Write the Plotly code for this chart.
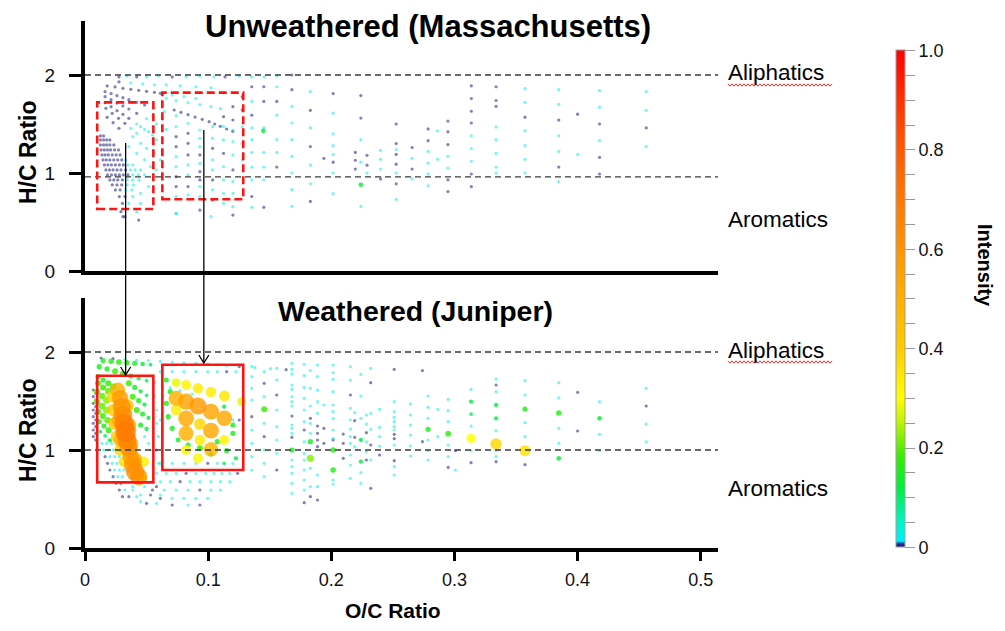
import plotly.graph_objects as go

FONT = "Liberation Sans, Arial, sans-serif"

# ---------------------------------------------------------------------------
# Unweathered (Massachusetts) – individual points / short homologous series
# ---------------------------------------------------------------------------
top_oc = [
    0.0276, 0.0340, 0.0420, 0.0500, 0.0596, 0.0708, 0.0821, 0.0933, 0.1048, 0.1137, 0.1252, 0.1354, 0.1455, 0.1557, 0.168,
    0.0276, 0.0372, 0.0468, 0.0564, 0.066, 0.0772, 0.090, 0.1023,
    0.018, 0.0244, 0.0308, 0.0372, 0.0436, 0.050, 0.0564, 0.0612, 0.0708, 0.0804, 0.0901,
    0.0163, 0.0212, 0.026, 0.0308, 0.0356, 0.042, 0.0484, 0.0564, 0.0644, 0.074,
    0.0163, 0.0212, 0.026, 0.0308, 0.0356, 0.042, 0.05, 0.058, 0.066,
    0.0163, 0.0212, 0.026, 0.0308, 0.0356, 0.042, 0.0484, 0.0548,
    0.017, 0.0221, 0.0272, 0.0324, 0.0372, 0.042,
    0.018, 0.0228, 0.0276,
    0.0388, 0.0452, 0.05, 0.0356, 0.042, 0.0484, 0.0532, 0.0452, 0.0516, 0.058, 0.0564, 0.0612, 0.058, 0.0628, 0.0516, 0.0452,
    0.0324, 0.0436, 0.074, 0.0933, 0.1023, 0.1201,
    0.0724, 0.0779, 0.0837, 0.0894, 0.0952, 0.1008, 0.1053, 0.1099, 0.115, 0.120,
    0.066, 0.074, 0.0837, 0.0933, 0.1023, 0.11,
    0.1448,
]
top_hc = [
    1.98, 1.99, 1.98, 1.98, 1.99, 1.98, 1.98, 1.99, 1.98, 1.98, 1.99, 1.98, 1.98, 1.99, 2.0,
    1.93, 1.92, 1.91, 1.90, 1.90, 1.89, 1.88, 1.87,
    1.888, 1.878, 1.864, 1.854, 1.844, 1.833, 1.823, 1.813, 1.796, 1.779, 1.762,
    1.830, 1.810, 1.789, 1.769, 1.748, 1.721, 1.694, 1.660, 1.626, 1.585,
    1.779, 1.748, 1.714, 1.684, 1.653, 1.609, 1.554, 1.5, 1.446,
    1.718, 1.677, 1.636, 1.599, 1.558, 1.5, 1.446, 1.388,
    1.66, 1.609, 1.558, 1.507, 1.456, 1.405,
    1.568, 1.514, 1.456,
    1.371, 1.303, 1.252, 1.269, 1.201, 1.133, 1.065, 1.473, 1.422, 1.337, 1.201, 1.133, 1.031, 0.929, 0.861, 0.793,
    0.554, 0.520, 0.588, 0.622, 0.554, 0.571,
    1.643, 1.619, 1.595, 1.571, 1.548, 1.524, 1.500, 1.476, 1.449, 1.425,
    1.762, 1.738, 1.718, 1.697, 1.677, 1.656,
    1.43,
]
top_int = [
    0, .03, 0, .03, .03, 0, .03, .03, .03, 0, .03, .03, .03, .03, 0,
    0, .03, .03, .03, .03, .03, .03, .03,
    0, 0, 0, 0, 0, 0, 0, 0, .03, .03, .03,
    0, 0, 0, 0, 0, 0, 0, .03, .03, .03,
    0, 0, 0, 0, 0, 0, .03, .03, .03,
    0, 0, 0, 0, 0, .03, .03, .03,
    0, 0, 0, 0, .03, .03,
    0, 0, 0,
    .03, .03, .03, .03, .03, .03, .03, .03, .03, .03, .03, .03, .03, .03, .03, .03,
    0, 0, .03, 0, .03, 0,
    0, 0, 0, 0, 0, 0, 0, 0, 0, 0,
    .03, .03, .03, .03, .03, .03,
    .13,
]

# low-O/C aromatic cluster, stored as rows of equal H/C
top_row_hc = [1.378, 1.337, 1.286, 1.235, 1.184, 1.133, 1.082, 1.031, 0.980, 0.929,
              0.878, 0.827, 0.759, 0.690, 0.605, 0.554]
top_row_oc = [
    [.0125, .0151],
    [.0125, .0151, .0176, .0202],
    [.0125, .0151, .0176, .0202, .0234],
    [.0131, .0157, .0183, .0208, .0240, .0272],
    [.0138, .0163, .0189, .0221, .0253, .0285],
    [.0147, .0173, .0202, .0234, .0266, .0298, .0330],
    [.0157, .0186, .0215, .0247, .0279, .0311, .0349, .0388],
    [.0170, .0199, .0228, .0260, .0292, .0330, .0369, .0407, .0452],
    [.0183, .0215, .0247, .0279, .0311, .0349, .0388, .0433, .0484],
    [.0202, .0234, .0266, .0304, .0343, .0388, .0439],
    [.0221, .0260, .0298, .0343, .0394],
    [.0247, .0285, .0330, .0381],
    [.0279, .0324, .0388],
    [.0304, .0356, .0452],
    [.0292, .0420],
    [.0308],
]
top_row_int = [
    [0, 0],
    [0, 0, 0, 0],
    [0, 0, 0, 0, 0],
    [0, 0, 0, 0, 0, 0],
    [0, 0, 0, 0, 0, 0],
    [0, 0, 0, 0, 0, 0, .03],
    [0, 0, 0, 0, 0, 0, .03, .03],
    [0, 0, 0, 0, 0, 0, .03, .03, .03],
    [0, 0, 0, 0, 0, 0, .03, .03, .03],
    [0, 0, 0, 0, .03, .03, .03],
    [0, 0, 0, .03, .03],
    [0, 0, .03, .03],
    [0, 0, .03],
    [0, .03, .03],
    [0, .03],
    [0],
]

# higher-O/C formulas, stored as columns of equal O/C
top_col_oc = [0.074, 0.0837, 0.0933, 0.1036, 0.1125, 0.1201, 0.1277, 0.1354, 0.1452, 0.1557,
              0.168, 0.183, 0.194, 0.2015, 0.2195, 0.224, 0.229, 0.24, 0.2527, 0.2656,
              0.2786, 0.2863, 0.2947, 0.3137, 0.3338, 0.3573, 0.3847, 0.40, 0.4178, 0.4557]
top_col_hc = [
    [1.473, 1.371, 1.269, 1.167, 1.065, .963, .861, .759, .588],
    [1.507, 1.405, 1.303, 1.184, 1.082, .980, .861, .776],
    [1.439, 1.354, 1.269, 1.184, 1.099, 1.014, .929, .861, .759],
    [1.473, 1.354, 1.252, 1.133, 1.031, .929, .827, .724],
    [1.575, 1.473, 1.337, 1.201, 1.065, .929, .793, .690],
    [1.677, 1.541, 1.439, 1.320, 1.184, 1.031, .912, .793, .656],
    [1.779, 1.643, 1.473, 1.303, 1.133],
    [1.88, 1.73, 1.59, 1.46, 1.34, 1.21, 1.06, .93, .76, .65],
    [1.88, 1.73, 1.46, 1.21, 1.06, .93, .65],
    [1.88, 1.73, 1.59, 1.34, 1.21, 1.06],
    [1.85, 1.68, 1.51, 1.34, 1.17, 1.0, .83, .66],
    [1.83, 1.64, 1.46, 1.27, 1.08, .89, .71],
    [1.15],
    [1.81, 1.61, 1.40, 1.28, 1.19, 1.11, 1.0, .79],
    [1.21, 1.13, 1.04],
    [1.79, 1.56, 1.34, 1.11, .88, .66],
    [1.18, 1.08, 1.0],
    [1.23, 1.14, 1.04, .94],
    [1.5, 1.3, 1.24, 1.19, 1.09, 1.0, .89, .73],
    [1.26, 1.15, 1.04, .94],
    [1.45, 1.33, 1.22, 1.10, .99, .87],
    [1.43, 1.14],
    [1.53, 1.42, 1.29, 1.17, 1.05, .93, .81],
    [1.89, 1.76, 1.63, 1.51, 1.38, 1.25, 1.12, .99, .86],
    [1.88, 1.74, 1.68, 1.47, 1.34, 1.20, 1.06, 1.0],
    [1.86, 1.72, 1.57, 1.43, 1.28, 1.14, 1.0],
    [1.85, 1.70, 1.54, 1.38, 1.22, 1.06, .91],
    [1.60, 1.19],
    [1.84, 1.67, 1.5, 1.33, 1.16, .99],
    [1.83, 1.64, 1.46, 1.27],
]
top_col_int = [
    [.03, 0, 0, .03, .03, 0, 0, .03, .03],
    [.03, 0, 0, 0, .03, .03, 0, .03],
    [.03, .03, .03, 0, .03, 0, 0, .03, .03],
    [.03, .03, 0, .03, .03, 0, .03, 0],
    [0, .03, .03, 0, .03, .03, .03, .03],
    [0, 0, .03, .03, .03, 0, .03, .03, .03],
    [0, 0, .03, .03, .03],
    [0, .03, 0, .03, .03, .03, .03, .03, 0, .03],
    [0, 0, .03, .03, .03, .03, 0],
    [.03, 0, .03, .03, .03, 0],
    [0, .03, .03, .03, .03, .03, .03, .03],
    [.03, 0, .03, 0, .03, .03, 0],
    [0],
    [0, .03, .03, .03, .03, 0, .03, .03],
    [0, 0, 0],
    [0, 0, .03, .03, .13, .03],
    [0, 0, .03],
    [.03, .03, .03, 0],
    [0, 0, .03, 0, 0, .03, 0, .03],
    [0, .03, 0, .03],
    [0, 0, .03, .03, .03, .03],
    [.03, .03],
    [0, 0, 0, .03, .03, 0, 0],
    [0, 0, 0, 0, .03, .03, .03, 0, 0],
    [0, 0, 0, .03, .03, .03, .03, .03],
    [.03, .03, 0, .03, .03, .03, .03],
    [.03, .03, 0, .03, .03, 0, .03],
    [0, .03],
    [.03, .03, 0, .03, 0, 0],
    [.03, .03, 0, .03],
]

# ---------------------------------------------------------------------------
# Weathered (Juniper) – individual points, series and intense features
# ---------------------------------------------------------------------------
bot_oc = [
    0.0131, 0.0228, 0.0324, 0.042, 0.0516, 0.0612, 0.0708, 0.0804, 0.0901, 0.0997,
    0.1074, 0.115, 0.1252, 0.138, 0.1506, 0.1633,
    0.0147, 0.0212, 0.0276, 0.034, 0.0404, 0.0468, 0.0532,
    0.0115, 0.0179, 0.0244, 0.0308, 0.0372, 0.0436, 0.05, 0.0564, 0.0628, 0.0692, 0.0772, 0.0869,
    0.0106, 0.0147, 0.0189, 0.023,
    0.0106, 0.0147, 0.0189,
    0.0099, 0.0138, 0.0176,
    0.0099, 0.0138, 0.0176,
    0.0106, 0.0144, 0.0183,
    0.0115, 0.0154, 0.0192,
    0.0125, 0.0163, 0.0202,
    0.0266, 0.0285, 0.0298, 0.0308, 0.0317, 0.033, 0.034, 0.0356, 0.0372, 0.0388, 0.0407, 0.0436,
    0.0276, 0.0356, 0.029, 0.0372, 0.034, 0.0404,
    0.0221, 0.0228, 0.024, 0.026, 0.0285, 0.0317, 0.0478, 0.0452,
    0.0356, 0.0404, 0.0452, 0.05, 0.0388, 0.0436, 0.0484, 0.042, 0.0468, 0.0516, 0.0452, 0.05, 0.0484, 0.0516, 0.0532,
    0.0564, 0.058, 0.058, 0.0596, 0.058, 0.0596,
    0.074, 0.0821, 0.0917, 0.1023, 0.1132, 0.074, 0.0821, 0.0917, 0.1023, 0.1132,
    0.074, 0.0821, 0.0933, 0.1023, 0.0821, 0.0933, 0.1023, 0.113, 0.0821, 0.0917, 0.1272,
    0.066, 0.0692, 0.066, 0.0676, 0.0708, 0.0756, 0.0837, 0.0933, 0.1023, 0.1201, 0.113, 0.1201,
    0.1074, 0.115, 0.1226, 0.113,
]
bot_hc = [
    1.939, 1.932, 1.925, 1.918, 1.912, 1.905, 1.898, 1.891, 1.884, 1.877,
    1.87, 1.86, 1.85, 1.84, 1.83, 1.82,
    1.912, 1.905, 1.898, 1.891, 1.884, 1.878, 1.871,
    1.850, 1.827, 1.803, 1.779, 1.755, 1.731, 1.707, 1.684, 1.660, 1.636, 1.605, 1.571,
    1.748, 1.714, 1.680, 1.646,
    1.680, 1.639, 1.599,
    1.595, 1.551, 1.507,
    1.493, 1.449, 1.405,
    1.391, 1.347, 1.303,
    1.289, 1.245, 1.201,
    1.187, 1.143, 1.099,
    1.612, 1.527, 1.442, 1.357, 1.272, 1.187, 1.102, 1.017, 0.932, 0.847, 0.779, 0.728,
    1.30, 1.25, 1.10, 1.06, 1.45, 0.90,
    1.544, 1.408, 1.272, 1.136, 1.0, 0.881, 0.881, 0.711,
    1.680, 1.639, 1.599, 1.558, 1.544, 1.503, 1.463, 1.408, 1.367, 1.327, 1.255, 1.214, 1.136, 1.068, 1.0,
    1.544, 1.408, 1.272, 1.136, 1.0, 0.864,
    1.687, 1.663, 1.629, 1.592, 1.551, 1.527, 1.493, 1.449, 1.391, 1.323,
    1.408, 1.323, 1.265, 1.197, 1.170, 1.102, 1.007, 1.102, 1.0, 0.915, 1.493,
    1.714, 1.595, 1.476, 1.340, 1.221, 1.102, 1.051, 1.017, 0.959, 1.255, 1.442, 1.170,
    1.085, 0.993, 0.915, 0.864,
]
bot_int = [
    0, 0, .03, .03, .03, .03, .03, .03, .03, .03,
    .03, .03, 0, .03, .03, 0,
    .15, .16, .17, .16, .15, .13, .1,
    .15, .15, .18, .18, .15, .12, .1, .08, .05, .03, .03, .03,
    .15, .15, .18, .2,
    .18, .18, .2,
    .2, .2, .22,
    .2, .2, .22,
    .18, .18, .2,
    .15, .15, .18,
    .1, .1, .12,
    .5, .56, .6, .63, .67, .7, .66, .6, .57, .6, .62, .58,
    .5, .5, .48, .5, .45, .5,
    .38, .4, .42, .4, .38, .35, .33, .4,
    .18, .15, .12, .1, .18, .15, .12, .18, .15, .12, .15, .12, .03, .03, .03,
    .03, .03, .03, .03, 0, .03,
    .28, .32, .34, .34, .35, .5, .55, .58, .54, .52,
    .34, .53, .38, .53, .5, .34, .48, .32, .32, .32, .28,
    .15, .15, .16, .15, .15, .14, .15, .18, .15, .15, .12, .15,
    .15, .15, .12, .1,
]

bot_row_hc = [1.068, 1.0, 0.932, 0.864, 0.796, 0.728, 0.660, 0.592, 0.524, 0.473, 0.626, 0.541,
              0.456, 1.799, 1.306, 0.864, 0.762, 0.677, 0.592, 0.507, 0.439]
bot_row_oc = [
    [.0138, .0176, .0215],
    [.0151, .0189, .0228, .0266],
    [.0163, .0202, .024, .0279],
    [.0183, .0221, .026, .0298],
    [.0202, .024, .0279, .0317],
    [.0228, .0266, .0304],
    [.0253, .0292],
    [.0279, .0324, .0388],
    [.0304, .0356, .042],
    [.0452],
    [.0388, .0484, .058],
    [.0452, .0532, .0612],
    [.05, .058],
    [.0612, .0708, .0804, .0901, .0997, .1074, .115, .1226],
    [.0612, .1201, .1252],
    [.0612, .0708, .0804, .0901, .0997, .1074, .1201],
    [.058, .066, .074, .0821, .0901, .0981, .1048, .1112, .1176, .1239],
    [.0612, .0692, .0772, .0853, .0933, .1023, .11, .1176],
    [.0548, .0644, .074, .0837, .0933, .1023, .11],
    [.0612, .0708, .0804, .0901, .0997],
    [.0708, .0837, .0933],
]
bot_row_int = [
    [.03, .03, .03],
    [.03, .03, .03, .03],
    [0, .03, .03, .03],
    [0, .03, .03, .03],
    [0, .03, .03, .03],
    [0, .03, .03],
    [0, 0],
    [0, .03, .03],
    [0, 0, .03],
    [.03],
    [.03, .03, 0],
    [.03, 0, .03],
    [0, .03],
    [.03, .03, .03, .03, .03, .03, 0, .03],
    [.03, .03, 0],
    [.03, .03, .03, .03, 0, .03, .03],
    [.03, .03, .03, 0, .03, .03, .03, .03, .03, 0],
    [.03, .03, 0, .03, .03, .03, .03, .03],
    [0, .03, .03, .03, 0, .03, .03],
    [0, .03, .03, .03, .03],
    [0, .03, 0],
]

bot_col_oc = [0.0067, 0.0087, 0.1354, 0.1455, 0.1557, 0.168, 0.178, 0.183, 0.1888, 0.194,
              0.2015, 0.2097, 0.2155, 0.219, 0.224, 0.2285, 0.232, 0.2392, 0.2511, 0.2643,
              0.274, 0.2786, 0.2865, 0.2949, 0.3008, 0.3135, 0.3338, 0.3573, 0.3847, 0.40,
              0.4178, 0.4557]
bot_col_hc = [
    [1.612, 1.544, 1.476, 1.408, 1.340, 1.272, 1.204, 1.136],
    [1.578, 1.510, 1.442, 1.374, 1.306, 1.238, 1.170, 1.102],
    [1.850, 1.748, 1.629, 1.510, 1.340, 1.204, 1.068, .932, .796],
    [1.799, 1.680, 1.544, 1.415, 1.272, 1.136, 1.0, .864, .728],
    [1.833, 1.714, 1.561, 1.408, 1.238, 1.102, .966, .796],
    [1.884, 1.823, 1.776, 1.663, 1.619, 1.544, 1.493, 1.449, 1.347, 1.255, 1.221, 1.170, 1.129,
     1.0, .898, .830, .762, .660, .558],
    [1.874, 1.759, 1.639, 1.527, 1.408, 1.289, 1.204, 1.085, .966, .898, .796, .694, .592, .463],
    [1.810, 1.629, 1.449, 1.323, 1.272, 1.170, 1.085, .915, .813, .626, .524],
    [1.867, 1.748, 1.612, 1.493, 1.374, 1.245, 1.170, 1.102, 1.034, .745, .626, .490],
    [1.459, 1.221, 1.068],
    [1.867, 1.789, 1.721, 1.595, 1.459, 1.391, 1.323, 1.204, 1.119, 1.102, 1.0, .796, .694, .653],
    [1.163, 1.068, .915],
    [1.850, 1.714, 1.561, 1.425, 1.306, 1.214, 1.136, 1.068, .949, .847, .711],
    [1.381, 1.299, 1.129, 1.034],
    [1.772, 1.551, 1.323, 1.102, .881, .769, .660],
    [1.357, 1.265, 1.177, 1.082, .983, .898],
    [1.833, 1.687, 1.374, 1.211, 1.051, .898, .609],
    [1.415, 1.231, 1.136, 1.041, .949],
    [1.823, 1.493, 1.391, 1.333, 1.289, 1.238, 1.204, 1.160, 1.116, 1.051, .891, .830, .745],
    [1.469, 1.357, 1.255, 1.153, 1.041, .939],
    [1.810, 1.085],
    [1.551, 1.435, 1.323, 1.211, 1.102, .993, .898],
    [1.415, 1.136],
    [1.517, 1.401, 1.289, 1.167, 1.051, .932, .823],
    [.993, .796],
    [1.619, 1.493, 1.367, 1.245, 1.119, .993, .871],
    [1.724, 1.663, 1.595, 1.459, 1.323, 1.197, 1.061, .993, .932, .881],
    [1.707, 1.561, 1.418, 1.279, 1.136, .993, .850],
    [1.687, 1.531, 1.378, 1.221, 1.068, .915],
    [1.588, 1.194],
    [1.493, 1.323, 1.160, .993],
    [1.629, 1.449, 1.265, 1.082],
]
bot_col_int = [
    [0, 0, 0, 0, 0, 0, 0, 0],
    [0, 0, 0, 0, 0, 0, 0, 0],
    [.03, .03, .03, .03, 0, .03, .03, .03, .03],
    [.03, 0, .03, .18, .03, 0, .03, .03, .03],
    [.03, .03, 0, .03, .03, .03, .03, 0],
    [.03, .03, .03, .03, .03, .03, .03, .03, 0, .03, .03, .03, 0, .15, .03, .03, .03, .03, .03],
    [.03, .03, .03, .03, .03, .03, 0, .03, .03, .03, .03, .03, .03, 0],
    [.03, .03, .03, 0, .03, .03, .15, .22, .03, .03, 0],
    [.03, .03, .03, .03, .03, 0, 0, 0, 0, .03, .03, 0],
    [.03, 0, 0],
    [.03, .03, .03, .03, .03, .03, .03, .03, .03, 0, .16, .16, .03, .03],
    [0, 0, 0],
    [.03, .03, 0, .03, .03, .03, .03, .03, .03, .03, .03],
    [.03, 0, 0, .03],
    [.03, .03, .03, .12, .12, .03, .03],
    [.03, .03, 0, .03, .03, 0],
    [.03, 0, .03, .03, 0, .03, 0],
    [.03, .03, .03, .03, 0],
    [0, .03, .03, .03, .03, .03, .03, 0, 0, .03, 0, .03, .03],
    [.03, .03, .03, .03, .03, .03],
    [0, 0],
    [.03, .03, .03, .15, .03, .03, .03],
    [.03, .03],
    [.03, .03, .03, .17, .03, .03, 0],
    [0, .03],
    [.03, .12, .1, .03, .3, .03, 0],
    [.03, 0, .03, .12, .12, .03, .38, .03, .03, 0],
    [.03, .03, .15, .03, .03, .36, 0],
    [.03, .03, .16, .03, .03, .13],
    [0, 0],
    [.03, .13, .03, .03],
    [.03, 0, .03, .03],
]

# axis ticks and labels
x_tick_vals = [0, 0.1, 0.2, 0.3, 0.4, 0.5]
x_tick_text = ["0", "0.1", "0.2", "0.3", "0.4", "0.5"]
y_tick_vals = [0, 1, 2]
cbar_label_vals = [0, 0.2, 0.4, 0.6, 0.8, 1.0]
cbar_label_text = ["0", "0.2", "0.4", "0.6", "0.8", "1.0"]

# reference lines (H/C) and highlighted regions (O/C range, H/C range)
top_ref_lines = [2.0, 0.96]
bot_ref_lines = [2.0, 1.0]
top_boxes = [(0.0099, 0.0555, 0.633, 1.721), (0.0628, 0.1285, 0.732, 1.820)]
bot_boxes = [(0.0099, 0.0555, 0.670, 1.758), (0.0628, 0.1285, 0.796, 1.870)]
arrow_oc = [0.033, 0.0965]


def combine(oc, hc, it, row_hc, row_oc, row_it, col_oc, col_hc, col_it):
    xs, ys, vs = list(oc), list(hc), list(it)
    assert len(xs) == len(ys) == len(vs), (len(xs), len(ys), len(vs))
    for y, xl, vl in zip(row_hc, row_oc, row_it):
        assert len(xl) == len(vl)
        xs += xl
        ys += [y] * len(xl)
        vs += vl
    for x, yl, vl in zip(col_oc, col_hc, col_it):
        assert len(yl) == len(vl)
        xs += [x] * len(yl)
        ys += yl
        vs += vl
    # weakest first so intense peaks sit on top
    order = sorted(range(len(vs)), key=lambda i: vs[i])
    return [xs[i] for i in order], [ys[i] for i in order], [vs[i] for i in order]


tx, ty, tv = combine(top_oc, top_hc, top_int, top_row_hc, top_row_oc, top_row_int,
                     top_col_oc, top_col_hc, top_col_int)
bx, by, bv = combine(bot_oc, bot_hc, bot_int, bot_row_hc, bot_row_oc, bot_row_int,
                     bot_col_oc, bot_col_hc, bot_col_int)

CSCALE = [
    [0.0, "#1c1c7a"], [0.006, "#1f2c8c"], [0.012, "#00eeff"], [0.05, "#00f5c8"],
    [0.12, "#00ee40"], [0.18, "#33ee00"], [0.26, "#ccf500"], [0.3, "#ffff00"],
    [0.4, "#ffcc00"], [0.5, "#ffb000"], [0.6, "#ff9400"], [0.7, "#ff7800"],
    [0.8, "#ff5a00"], [0.9, "#ff3000"], [1.0, "#ff0000"],
]


def marker_for(vals, with_bar=False):
    m = dict(
        color=vals, cmin=0, cmax=1, colorscale=CSCALE,
        size=[3.2 + 28 * max(0.0, v - 0.08) for v in vals],
        opacity=[0.55 if v < 0.1 else 0.82 for v in vals],
        line=dict(width=0),
        showscale=with_bar,
    )
    if with_bar:
        minor = [i / 20 for i in range(21)]
        m["colorbar"] = dict(
            x=1.2812, xanchor="left", xpad=0,
            y=0.4725, yanchor="middle", ypad=0,
            len=497, lenmode="pixels", thickness=9, thicknessmode="pixels",
            outlinewidth=1, outlinecolor="#a0a0a0",
            tickvals=minor,
            ticktext=[cbar_label_text[cbar_label_vals.index(round(t, 2))]
                      if round(t, 2) in cbar_label_vals else "" for t in minor],
            ticks="outside", ticklen=10, tickwidth=1, tickcolor="#9a9a9a",
            tickfont=dict(size=18, color="#111111", family=FONT),
        )
    return m


fig = go.Figure()
fig.add_trace(go.Scatter(x=tx, y=ty, mode="markers", xaxis="x2", yaxis="y2",
                         marker=marker_for(tv), hoverinfo="skip", showlegend=False))
fig.add_trace(go.Scatter(x=bx, y=by, mode="markers", xaxis="x", yaxis="y",
                         marker=marker_for(bv, with_bar=True), hoverinfo="skip", showlegend=False))

W, H = 1005, 631
ML, MR, MT, MB = 85, 287, 21, 83
PW, PH = W - ML - MR, H - MT - MB
X_MAX = 0.514
Y_MAX = 2.551


def px_to_paper(px, py):
    return (px - ML) / PW, (H - MB - py) / PH


axis_common = dict(showgrid=False, zeroline=False, showline=True, linecolor="black")
fig.update_layout(
    width=W, height=H, margin=dict(l=ML, r=MR, t=MT, b=MB, pad=0),
    paper_bgcolor="white", plot_bgcolor="white", showlegend=False,
    font=dict(family=FONT, color="#111111"),
    xaxis=dict(domain=[0, 1], anchor="y", range=[0, X_MAX], tickvals=x_tick_vals, ticktext=x_tick_text,
               ticks="outside", ticklen=9, tickwidth=2.5, tickcolor="black", linewidth=3.5,
               tickfont=dict(size=18), ticklabelstandoff=4, **axis_common),
    xaxis2=dict(domain=[0, 1], anchor="y2", range=[0, X_MAX], showticklabels=False, ticks="",
                linewidth=3.5, **axis_common),
    yaxis=dict(domain=[0, 250 / PH], anchor="x", range=[0, Y_MAX], tickvals=y_tick_vals,
               ticks="outside", ticklen=12, tickwidth=2.5, tickcolor="black", linewidth=4,
               tickfont=dict(size=19), ticklabelstandoff=10, **axis_common),
    yaxis2=dict(domain=[1 - 250 / PH, 1], anchor="x2", range=[0, Y_MAX], tickvals=y_tick_vals,
                ticks="outside", ticklen=12, tickwidth=2.5, tickcolor="black", linewidth=4,
                tickfont=dict(size=19), ticklabelstandoff=10, **axis_common),
)

shapes = []
for yv in top_ref_lines:
    shapes.append(dict(type="line", xref="paper", yref="y2", x0=0, x1=1, y0=yv, y1=yv,
                       line=dict(color="#3a3a3a", width=1.4, dash="6px,4px")))
for yv in bot_ref_lines:
    shapes.append(dict(type="line", xref="paper", yref="y", x0=0, x1=1, y0=yv, y1=yv,
                       line=dict(color="#3a3a3a", width=1.4, dash="6px,4px")))
for x0, x1, y0, y1 in top_boxes:
    shapes.append(dict(type="rect", xref="x2", yref="y2", x0=x0, x1=x1, y0=y0, y1=y1,
                       line=dict(color="#ff1414", width=2.6, dash="8px,4px")))
for x0, x1, y0, y1 in bot_boxes:
    shapes.append(dict(type="rect", xref="x", yref="y", x0=x0, x1=x1, y0=y0, y1=y1,
                       line=dict(color="#ff1414", width=2.6)))

# arrows from the top boxes down to the matching boxes in the weathered panel
arrow_spans = [(143, 375), (130, 363)]
dx = 5 * X_MAX / PW
dy = 8 / PH
for xv, (py0, py1) in zip(arrow_oc, arrow_spans):
    _, ya = px_to_paper(0, py0)
    _, yb = px_to_paper(0, py1)
    shapes.append(dict(type="line", xref="x", yref="paper", x0=xv, x1=xv, y0=ya, y1=yb,
                       line=dict(color="black", width=1.3)))
    shapes.append(dict(type="path", xref="x", yref="paper",
                       path=f"M {xv - dx},{yb + dy} L {xv},{yb} L {xv + dx},{yb + dy}",
                       line=dict(color="black", width=1.3)))

# wavy proofing underline beneath the "Aliphatics" labels
for py in (85, 362):
    pts = []
    for k in range(53):
        px = 728 + 2 * k
        yy = py + (1.2 if k % 2 else -1.2)
        pts.append(px_to_paper(px, yy))
    path = "M " + " L ".join(f"{a:.5f},{b:.5f}" for a, b in pts)
    shapes.append(dict(type="path", xref="paper", yref="paper", path=path,
                       line=dict(color="#e03030", width=1)))

fig.update_layout(shapes=shapes)


def ann(text, px, py, size, bold=False, angle=0, anchor="center"):
    x, y = px_to_paper(px, py)
    return dict(text=f"<b>{text}</b>" if bold else text, x=x, y=y, xref="paper", yref="paper",
                showarrow=False, textangle=angle, xanchor=anchor, yanchor="middle",
                font=dict(size=size, color="#000000", family=FONT))


annotations = [
    ann("Unweathered (Massachusetts)", 428, 27, 31, bold=True),
    ann("Weathered (Juniper)", 415, 311, 28.5, bold=True),
    ann("Aliphatics", 726, 73, 22.5, anchor="left"),
    ann("Aromatics", 726, 220, 22.5, anchor="left"),
    ann("Aliphatics", 726, 350, 22.5, anchor="left"),
    ann("Aromatics", 726, 488, 22.5, anchor="left"),
    ann("H/C Ratio", 28, 152, 23, bold=True, angle=-90),
    ann("H/C Ratio", 28, 430, 23, bold=True, angle=-90),
    ann("O/C Ratio", 393, 610, 21, bold=True),
    ann("Intensity", 985, 265, 20, bold=True, angle=90),
]
fig.update_layout(annotations=annotations)

fig.write_html("out.html")
